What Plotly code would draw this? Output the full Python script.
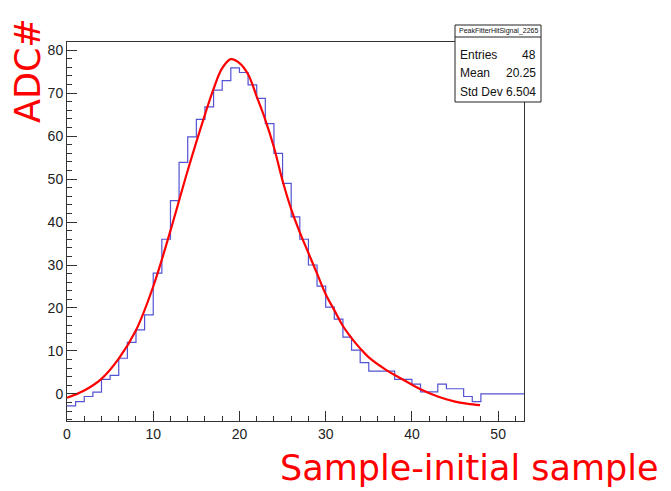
import plotly.graph_objects as go

# Histogram bin contents (bins of width 1 from 0 to 53)
bin_values = [-2.8, -1.8, -0.6, 0.4, 3.4, 4.3, 8.3, 12.0, 14.9, 18.4,
              28.1, 36.0, 45.0, 53.9, 59.8, 63.9, 66.8, 70.7, 72.9, 75.9,
              74.8, 71.9, 68.8, 62.9, 56.0, 49.0, 41.2, 36.0, 30.0, 25.1,
              20.2, 17.4, 13.2, 10.2, 7.3, 5.3, 5.3, 5.3, 3.4, 3.4,
              2.3, 0.5, 0.5, 2.3, 1.2, 1.2, -0.6, -1.8, 0.0, 0.0,
              0.0, 0.0, 0.0]
bin_low = 0
bin_width = 1

# Fit curve points
fit_x = [0, 2, 4, 6, 8, 10, 12, 14, 16, 17, 18, 19, 20, 21, 22, 23, 24, 25,
         26, 27, 28, 29, 30, 31, 32, 33, 34, 35, 37, 39, 41, 43, 45, 46.5, 47.9]
fit_y = [-0.9, 0.8, 3.5, 8.2, 14.8, 25.0, 38.0, 52.0, 65.0, 71.0, 75.8, 77.9,
         77.0, 74.4, 69.2, 63.8, 57.4, 49.6, 43.0, 37.6, 32.8, 28.0, 23.2,
         19.5, 15.8, 13.0, 10.6, 8.5, 5.6, 3.3, 1.1, -0.6, -1.8, -2.3, -2.6]

stats_title = "PeakFitterHitSignal_2265"
stats_labels = ["Entries", "Mean", "Std Dev"]
stats_values = ["48", "20.25", "6.504"]

x_title = "Sample-initial sample"
y_title = "ADC#"

edges = [bin_low + i * bin_width for i in range(len(bin_values) + 1)]
hist_y = bin_values + [bin_values[-1]]

fig = go.Figure()
fig.add_trace(go.Scatter(x=edges, y=hist_y, mode="lines",
                         line=dict(shape="hv", color="#5353d3", width=1.2),
                         showlegend=False, hoverinfo="skip"))
fig.add_trace(go.Scatter(x=fit_x, y=fit_y, mode="lines",
                         line=dict(shape="spline", color="#ff0000", width=2.2),
                         showlegend=False, hoverinfo="skip"))

# Page offset (default body margin) compensation
OFF = 8
W, H = 671, 491
# frame in reference pixels: left 67, right 524, top 42, bottom 421
FL, FR, FT, FB = 67, 524, 42, 421
L, T = FL - OFF, FT - OFF
R, B = W - (FR - OFF), H - (FB - OFF)
pw, ph = FR - FL, FB - FT

def px(xpix):
    return (xpix - FL) / pw

def py(ypix):
    return (FB - ypix) / ph

axis_font = dict(family="Liberation Sans, Arial, sans-serif", size=14, color="#222")

fig.update_xaxes(range=[0, 53], showline=True, mirror=True, linecolor="#333",
                 linewidth=1, ticks="inside", ticklen=10, tickcolor="#333",
                 tickvals=[0, 10, 20, 30, 40, 50], showgrid=False, zeroline=False,
                 tickfont=axis_font,
                 minor=dict(ticks="inside", ticklen=5, dtick=2, tick0=0,
                            tickcolor="#333", showgrid=False))
fig.update_yaxes(range=[-6.3, 81.9], showline=True, mirror=True, linecolor="#333",
                 linewidth=1, ticks="inside", ticklen=10, tickcolor="#333",
                 tickvals=[0, 10, 20, 30, 40, 50, 60, 70, 80], showgrid=False,
                 zeroline=False, tickfont=axis_font,
                 minor=dict(ticks="inside", ticklen=5, dtick=2, tick0=0,
                            tickcolor="#333", showgrid=False))

# Stats box
bx0, bx1, by0, by1, bsep = 455, 541, 25, 102, 37
fig.add_shape(type="rect", xref="paper", yref="paper",
              x0=px(bx0), x1=px(bx1), y0=py(by1), y1=py(by0),
              line=dict(color="#222", width=1), fillcolor="white", layer="above")
fig.add_shape(type="line", xref="paper", yref="paper",
              x0=px(bx0), x1=px(bx1), y0=py(bsep), y1=py(bsep),
              line=dict(color="#222", width=1), layer="above")

base = "Liberation Sans, Arial, sans-serif"
annotations = [
    dict(text=stats_title, xref="paper", yref="paper",
         x=px((bx0 + bx1) / 2), y=py((by0 + bsep) / 2),
         xanchor="center", yanchor="middle", showarrow=False,
         font=dict(family=base, size=7, color="#111")),
]
row_y = [55, 73, 92]
for lab, val, ry in zip(stats_labels, stats_values, row_y):
    annotations.append(dict(text=lab, xref="paper", yref="paper", x=px(458),
                            y=py(ry), xanchor="left", yanchor="middle",
                            showarrow=False,
                            font=dict(family=base, size=12, color="#111")))
    annotations.append(dict(text=val, xref="paper", yref="paper", x=px(538),
                            y=py(ry), xanchor="right", yanchor="middle",
                            showarrow=False,
                            font=dict(family=base, size=12, color="#111")))

title_font = dict(family="Comic Sans MS, DejaVu Sans, sans-serif", size=35, color="#ff0000")
annotations.append(dict(text=x_title, xref="paper", yref="paper", x=px(661),
                        y=py(468), xanchor="right", yanchor="middle",
                        showarrow=False, font=title_font))
annotations.append(dict(text=y_title, xref="paper", yref="paper", x=px(28),
                        y=py(71), xanchor="center", yanchor="middle",
                        textangle=-90, showarrow=False, font=title_font))

fig.update_layout(width=W, height=H, margin=dict(l=L, r=R, t=T, b=B),
                  paper_bgcolor="white", plot_bgcolor="white",
                  annotations=annotations, showlegend=False)

fig.write_html("out.html")
